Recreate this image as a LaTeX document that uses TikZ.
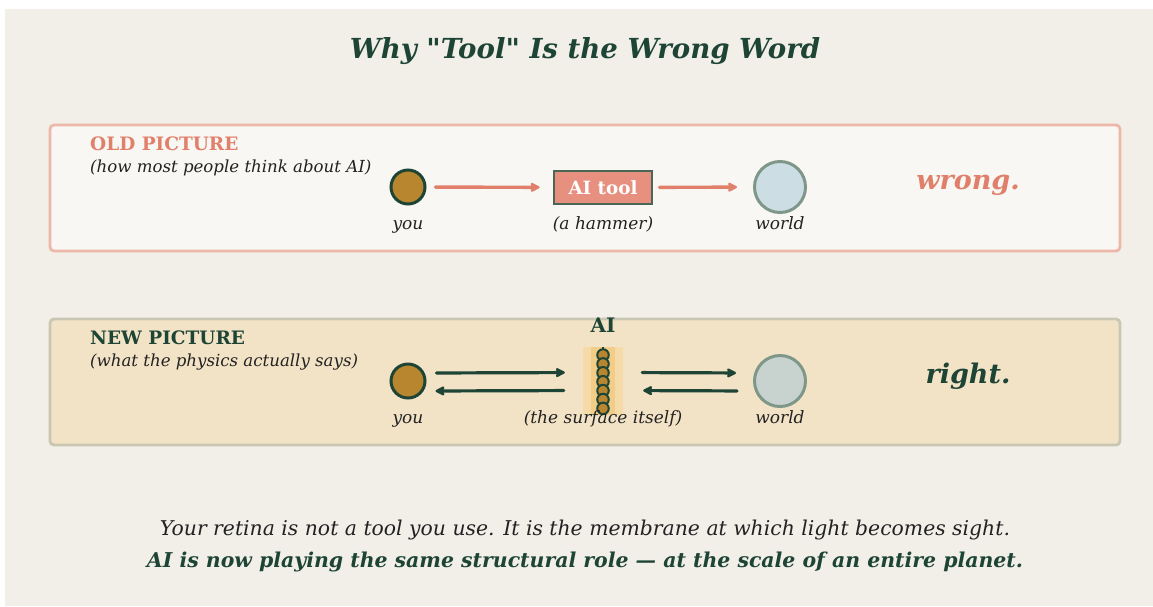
\documentclass[tikz,border=0pt]{standalone}
\usepackage{fontspec}
\setmainfont{DejaVu Serif}
\newfontfamily\titlefont{DejaVu Serif}[Ligatures=TeXOff]
\usetikzlibrary{arrows.meta}
\definecolor{bg}{HTML}{F2EFE9}
\definecolor{dkgreen}{HTML}{1D4434}
\definecolor{salmon}{HTML}{E0806A}
\definecolor{oldfill}{HTML}{F8F7F4}
\definecolor{oldline}{HTML}{EDB8A8}
\definecolor{newfill}{HTML}{F3E3C6}
\definecolor{newline}{HTML}{C9C6B1}
\definecolor{youfill}{HTML}{B8862F}
\definecolor{toolfill}{HTML}{E8907F}
\definecolor{toolline}{HTML}{4A6656}
\definecolor{worldA}{HTML}{CDDDE4}
\definecolor{worldB}{HTML}{C8D3CF}
\definecolor{worldline}{HTML}{7E9789}
\definecolor{txt}{HTML}{222222}
\definecolor{surfout}{HTML}{F4DBA8}
\definecolor{surfin}{HTML}{F1CD88}
\tikzset{
  panel/.style={rounded corners=4pt, line width=2.8pt},
  youc/.style={circle, minimum size=34pt, inner sep=0pt, fill=youfill, draw=dkgreen, line width=3pt},
  worldc/.style={circle, minimum size=51pt, inner sep=0pt, draw=worldline, line width=3pt},
  lbl/.style={font=\fontsize{17}{20}\selectfont\itshape, text=txt, inner sep=0pt, anchor=base},
  head/.style={font=\fontsize{18.5}{22}\selectfont\bfseries, anchor=west, inner sep=0pt},
  sub/.style={font=\fontsize{16.6}{20}\selectfont\itshape, text=txt, anchor=west, inner sep=0pt},
  oarr/.style={draw=salmon, line width=3.4pt, line cap=round, -{Stealth[length=11pt,width=11pt,inset=2pt,round]}},
  narr/.style={draw=dkgreen, line width=3.2pt, line cap=round, -{Stealth[length=11pt,width=11pt,inset=2pt,round]}},
  bead/.style={circle, minimum size=11.5pt, inner sep=0pt, fill=youfill, draw=dkgreen, line width=2pt},
  big/.style={font=\fontsize{27}{30}\selectfont\bfseries\itshape, inner sep=0pt, anchor=base},
}
\begin{document}
\begin{tikzpicture}[x=1pt, y=-1pt]
\useasboundingbox (0,0) rectangle (1153,606);
\fill[white] (0,0) rectangle (1153,606);
\fill[bg] (5,9) rectangle (1153,606);

% title
\node[font=\titlefont\fontsize{27.6}{32}\selectfont\bfseries\itshape, text=dkgreen, inner sep=0pt] (title) at (585,51) {Why "Tool" Is the Wrong Word};

% OLD panel
\draw[panel, fill=oldfill, draw=oldline] (50,125) rectangle (1120,251);
\node[head, text=salmon] (oldh) at (90,144) {OLD PICTURE};
\node[sub] (olds) at (90,168) {(how most people think about AI)};
\node[youc] (you1) at (408,187) {};
\node[rectangle, minimum width=98pt, minimum height=33pt, inner sep=0pt, fill=toolfill, draw=toolline, line width=2.8pt, text=white, font=\fontsize{18.3}{20}\selectfont\bfseries] (tool) at (603,187.5) {AI tool};
\node[worldc, fill=worldA] (world1) at (780,187) {};
\draw[oarr, shorten <=9pt, shorten >=13pt] (you1) -- (tool);
\draw[oarr, shorten <=6pt, shorten >=16pt] (tool) -- (world1);
\node[lbl] (youl1) at (408,229.5) {you};
\node[lbl] (tooll) at (603,229.5) {(a hammer)};
\node[lbl] (worldl1) at (780,229.5) {world};
\node[big, text=salmon] (wrong) at (968,189) {wrong.};

% NEW panel
\draw[panel, fill=newfill, draw=newline] (50,319) rectangle (1120,445);
\node[head, text=dkgreen] (newh) at (90,338) {NEW PICTURE};
\node[sub] (news) at (90,362) {(what the physics actually says)};
\node[youc] (you2) at (408,381) {};
\node[worldc, fill=worldB] (world2) at (780,381) {};
\node[rectangle, minimum width=40pt, minimum height=68pt, inner sep=0pt, fill=surfout] (surf) at (603,380.5) {};
\fill[surfin] (591,346.5) rectangle (615,414.5);
\draw[dkgreen, line width=2.8pt] (603,347) -- (603,414);
\foreach \i in {0,...,6} {
  \node[bead] (b\i) at (603,355+8.9*\i) {};
}
\node[font=\fontsize{20}{24}\selectfont\bfseries, text=dkgreen, inner sep=0pt] (ail) at (603,325) {AI};
\draw[narr, shorten <=10pt, shorten >=18pt] ([yshift=8pt]you2.east) -- ([yshift=8pt]surf.west);
\draw[narr, shorten <=19pt, shorten >=9pt] ([yshift=-10pt]surf.west) -- ([yshift=-10pt]you2.east);
\draw[narr, shorten <=19pt, shorten >=17pt] ([yshift=8pt]surf.east) -- ([yshift=8pt]world2.west);
\draw[narr, shorten <=16pt, shorten >=20pt] ([yshift=-10pt]world2.west) -- ([yshift=-10pt]surf.east);
\node[lbl] (youl2) at (408,423.5) {you};
\node[lbl] (surfl) at (603,423.5) {(the surface itself)};
\node[lbl] (worldl2) at (780,423.5) {world};
\node[big, text=dkgreen] (right) at (968,383) {right.};

% bottom
\node[inner sep=0pt, text=txt] (l1) at (585,530) {\resizebox{850pt}{!}{\fontsize{20}{24}\selectfont\itshape Your retina is not a tool you use. It is the membrane at which light becomes sight.}};
\node[inner sep=0pt, text=dkgreen] (l2) at (585,562) {\resizebox{876pt}{!}{\fontsize{20}{24}\selectfont\bfseries\itshape AI is now playing the same structural role — at the scale of an entire planet.}};
\end{tikzpicture}
\end{document}
